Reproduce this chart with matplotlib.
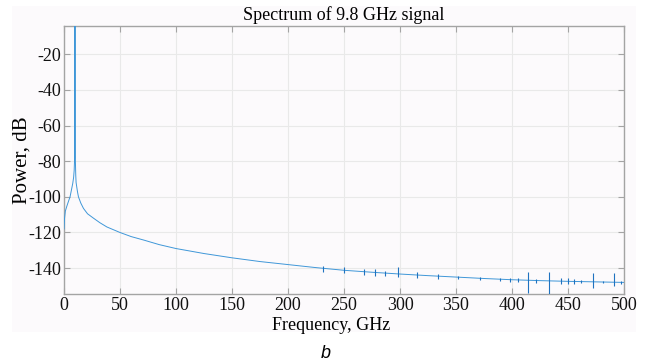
import matplotlib
matplotlib.use("Agg")
import matplotlib.pyplot as plt
from matplotlib.patches import Rectangle

# spectrum envelope (GHz, dB)
freq = [0, 0.5, 1.2, 2.4, 4, 5.4, 7, 7.8, 8.6, 9.1, 9.5, 9.7, 9.8,
        9.9, 10.1, 10.5, 10.8, 12, 12.9, 15, 17.4, 21, 26.4, 32, 38.3,
        50, 60, 71.5, 85, 100, 125, 150, 175, 200, 225, 250, 275, 300,
        325, 350, 375, 400, 425, 450, 475, 500]
power = [-118, -112, -108, -105.5, -102.5, -100, -95, -92.5, -89, -85,
         -78, -68, 0, -68, -78, -88, -92, -97, -100, -103.5, -106.5,
         -109.5, -112, -114.5, -116.9, -120, -122.3, -124.3, -126.8,
         -129, -131.8, -134.2, -136.3, -138, -139.7, -141.2, -142.3,
         -143.3, -144.2, -145, -145.8, -146.5, -147, -147.4, -147.7, -148]

# spurs at high frequency: position, top, bottom (dB)
spur_f = [231, 250, 268, 278, 287, 298, 315, 334, 352, 371, 389, 398,
          405, 414, 421, 433, 444, 450, 455, 462, 472, 481, 491, 497]
spur_hi = [-138.8, -139.6, -140.4, -140.2, -141.6, -139.6, -142.4, -143.4,
           -144.3, -145.0, -145.3, -145.6, -145.8, -142, -146.2, -142,
           -145.3, -145.6, -145.9, -146.8, -143, -147.2, -142.5, -147.3]
spur_lo = [-142, -143, -143.6, -144.4, -144.6, -145.2, -145.4, -146.2,
           -146.2, -146.6, -147.4, -147.6, -147.6, -154, -148.2, -155,
           -148.8, -149, -148.8, -148.6, -151, -148.6, -150, -148.8]

xticks = [0, 50, 100, 150, 200, 250, 300, 350, 400, 450, 500]
yticks = [-140, -120, -100, -80, -60, -40, -20]

plt.rcParams['font.family'] = ['Liberation Serif', 'DejaVu Serif']
plt.rcParams['axes.unicode_minus'] = False

fig = plt.figure(figsize=(6.5, 3.63), dpi=100)
fig.patch.set_facecolor('white')
fig.patches.append(Rectangle((12 / 650, 1 - 332 / 363), 624 / 650, 326 / 363,
                             transform=fig.transFigure, facecolor='#fcfafc',
                             edgecolor='none', zorder=-10))

ax = fig.add_axes([64 / 650, 1 - 294 / 363, 560 / 650, (294 - 25.7) / 363])
ax.set_zorder(1)
ax.set_facecolor('#fcfafc')

ax.plot(freq, power, color='#3f97d8', lw=0.7, zorder=3)
ax.vlines(spur_f, spur_lo, spur_hi, color='#1f72c0', lw=0.8, zorder=3)

ax.set_xlim(0, 500)
ax.set_ylim(-154.5, -4)
ax.set_xticks(xticks)
ax.set_yticks(yticks)
ax.grid(True, color='#e9e9e9', lw=0.8)
ax.set_axisbelow(True)

for s in ax.spines.values():
    s.set_color('#a4a4a4')
    s.set_linewidth(1.0)
ax.tick_params(direction='in', length=4, color='#a4a4a4', labelsize=13,
               top=True, right=True, labelcolor='#111111', pad=2)

ax.set_title('Spectrum of 9.8 GHz signal', fontsize=13, pad=4)
ax.set_xlabel('Frequency, GHz', fontsize=13)
ax.xaxis.set_label_coords(0.477, -0.085)
ax.set_ylabel('Power, dB', fontsize=15, labelpad=-2)

fig.text(326 / 650, 1 - 353 / 363, 'b', fontsize=13, style='italic',
         family='Liberation Sans', ha='center', va='center')

fig.savefig('out.png', dpi=100)
